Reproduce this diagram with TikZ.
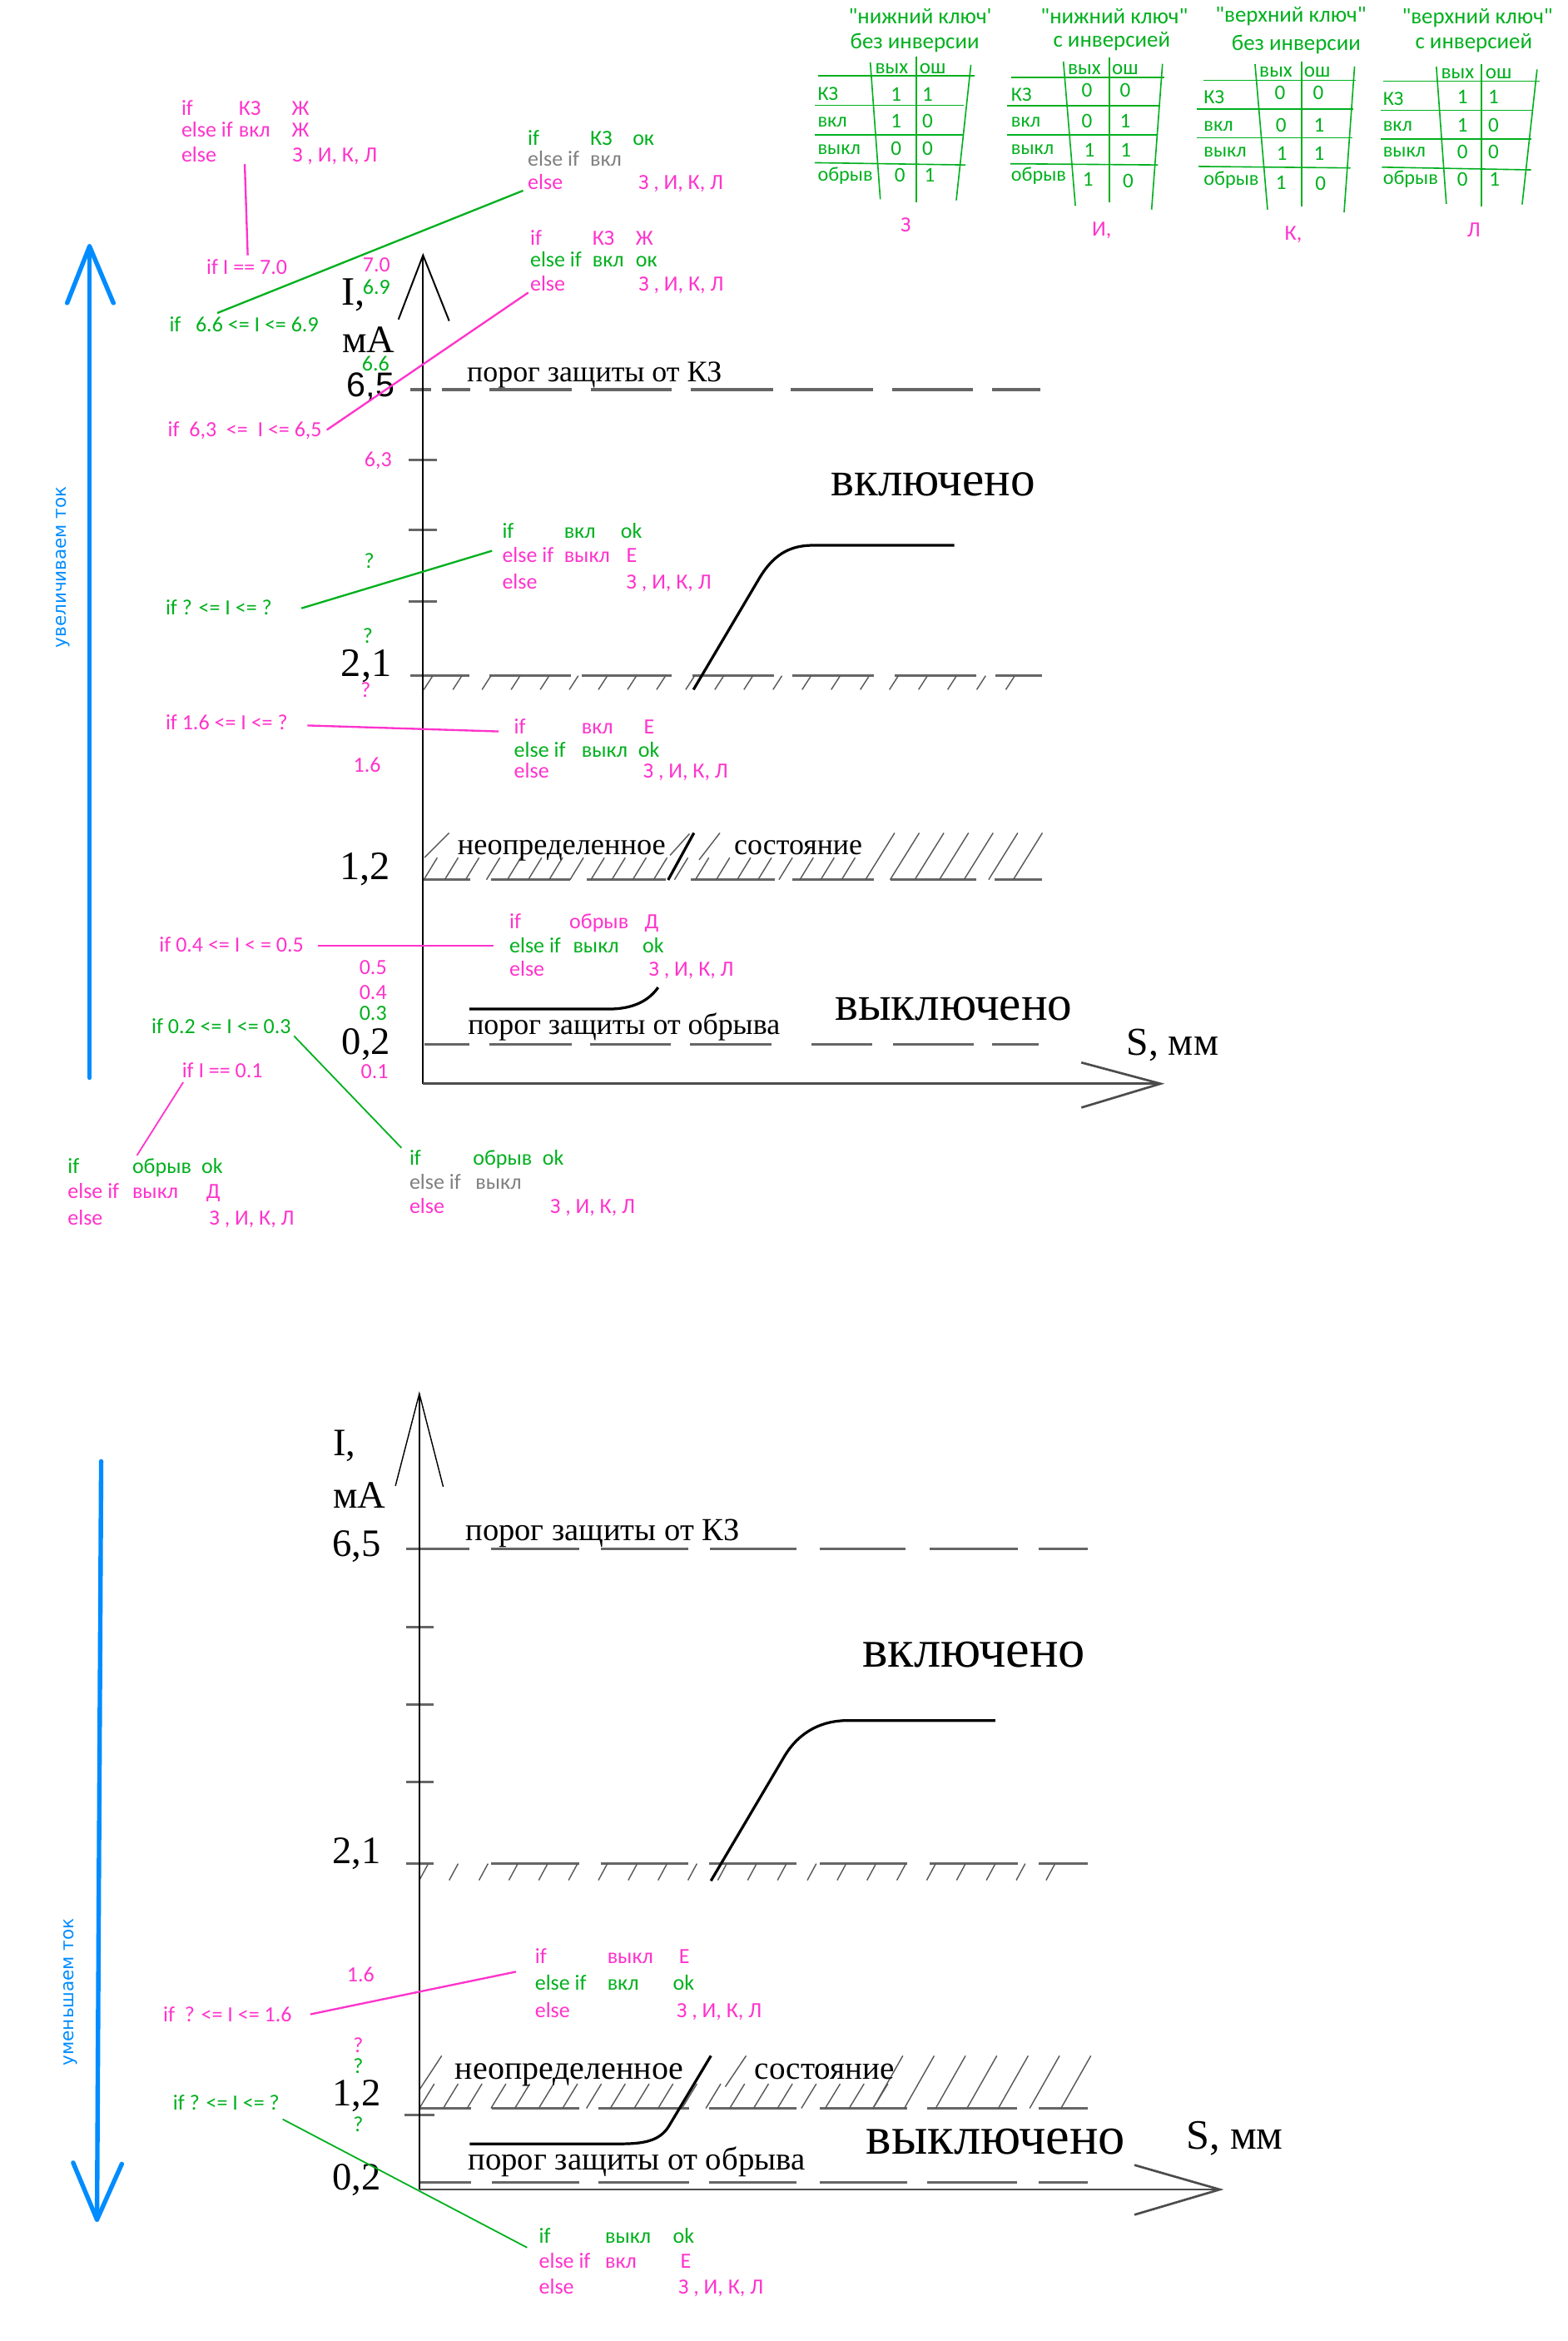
\documentclass[tikz,border=0pt]{standalone}
\usepackage{fontspec}
\setmainfont{Liberation Serif}
\newfontfamily\cf{Carlito}[Ligatures=TeXOff]
\newfontfamily\lsans{Liberation Sans}
\newfontfamily\dvs{DejaVu Sans}
\definecolor{pkc}{RGB}{255,51,204}
\definecolor{gnc}{RGB}{0,176,30}
\definecolor{gyc}{RGB}{128,128,128}
\definecolor{blc}{RGB}{0,140,255}
\newcommand\PK[1]{\textcolor{pkc}{#1}}
\newcommand\GN[1]{\textcolor{gnc}{#1}}
\newcommand\GY[1]{\textcolor{gyc}{#1}}
\newcommand\rowtx[5]{\makebox[#1pt][l]{#3}\makebox[#2pt][l]{#4}#5}
\newcommand\fsz[1]{\fontsize{#1}{#1}\selectfont}
\tikzset{
  every node/.style={inner sep=0pt, outer sep=0pt},
  lb/.style={font=\cf\fsz{14.5}, anchor=base west},
  sv/.style={font=\cf\fsz{14.5}, anchor=center},
  tb/.style={font=\cf\fsz{14}, text=gnc, anchor=center},
  tt/.style={font=\cf\fsz{15}, text=gnc, anchor=center},
  tbl/.style={font=\cf\fsz{13.5}, text=gnc, anchor=west},
  sr/.style={anchor=base west},
  axl/.style={anchor=base},
  ax/.style={draw=black, line width=1.1pt},
  axg/.style={draw=black!70, line width=1.5pt},
  thr/.style={draw=black!60, line width=1.7pt},
  hat/.style={draw=black!65, line width=0.8pt},
  gline/.style={draw=gnc, line width=1.3pt},
  pline/.style={draw=pkc, line width=1.3pt},
  tl/.style={draw=gnc, line width=0.9pt},
  crv/.style={draw=black, line width=1.8pt},
  blu/.style={draw=blc, line width=3pt, line cap=round, line join=round},
}
\begin{document}
\begin{tikzpicture}[x=1pt,y=-1pt]
\useasboundingbox (0,0) rectangle (1050.2,1568.3);
\fill[white] (0,0) rectangle (1050.2,1568.3);

% ================= TABLES =================
% T1
\node[tt] (t1h1) at (616.6,11) {"нижний ключ'};
\node[tt] (t1h2) at (613,28.8) {без инверсии};
\draw[tl] (548,50.8) -- (653,50.8);
\draw[tl] (546,70.6) -- (646,70.6);
\draw[tl] (546,90.5) -- (646,90.5);
\draw[tl] (546,109) -- (647,110.5);
\draw[tl] (583.2,41.8) -- (589.9,133.5);
\draw[tl] (613.9,38) -- (613.9,135.6);
\draw[tl] (650.6,43.5) -- (640.8,134.2);
\node[tb] (t1c1) at (597.5,46) {вых};
\node[tb] (t1c2) at (625,46) {ош};
\node[tbl] (t1r1) at (548,63) {КЗ};
\node[tbl] (t1r2) at (548,81.8) {вкл};
\node[tbl] (t1r3) at (548,100.4) {выкл};
\node[tbl] (t1r4) at (548,118) {обрыв};
\node[tb] (t1a1) at (600.5,63.2) {1};   \node[tb] (t1b1) at (621.6,63.2) {1};
\node[tb] (t1a2) at (600.5,81.2) {1};   \node[tb] (t1b2) at (621.6,81.2) {0};
\node[tb] (t1a3) at (600.5,99.5) {0};   \node[tb] (t1b3) at (621.6,99.5) {0};
\node[tb] (t1a4) at (603,117.5) {0};    \node[tb] (t1b4) at (623,117.5) {1};
\node[sv] (t1z) at (607,150.6) {\PK{З}};
% T2
\node[tt] (t2h1) at (746.7,11) {"нижний ключ"};
\node[tt] (t2h2) at (745,27.9) {с инверсией};
\draw[tl] (677.6,51.7) -- (780,51.7);
\draw[tl] (675,71) -- (777,71);
\draw[tl] (675,90.5) -- (776,90.5);
\draw[tl] (677,109.7) -- (776,110.5);
\draw[tl] (712.6,41.3) -- (720.6,137.8);
\draw[tl] (743.3,38.5) -- (743.3,135.6);
\draw[tl] (779,42.8) -- (771.7,140.4);
\node[tb] (t2c1) at (726.6,46.5) {вых};
\node[tb] (t2c2) at (754,46.5) {ош};
\node[tbl] (t2r1) at (677.6,63.2) {КЗ};
\node[tbl] (t2r2) at (677.6,81.8) {вкл};
\node[tbl] (t2r3) at (677.6,100.4) {выкл};
\node[tbl] (t2r4) at (677.6,118) {обрыв};
\node[tb] (t2a1) at (728.3,60.4) {0};   \node[tb] (t2b1) at (754,60.4) {0};
\node[tb] (t2a2) at (728.3,81.2) {0};   \node[tb] (t2b2) at (754,81.2) {1};
\node[tb] (t2a3) at (730,100.4) {1};    \node[tb] (t2b3) at (754.5,100.4) {1};
\node[tb] (t2a4) at (729,120) {1};      \node[tb] (t2b4) at (756,121) {0};
\node[sv] (t2z) at (738.3,154.3) {\PK{И,}};
% T3
\node[tt] (t3h1) at (865,11) {"верхний ключ"};
\node[tt] (t3h2) at (868.6,29.7) {без инверсии};
\draw[tl] (806.7,53.9) -- (908.4,53.9);
\draw[tl] (802,73) -- (906.7,73);
\draw[tl] (802,92.4) -- (906,92.4);
\draw[tl] (803,111.5) -- (905,112.5);
\draw[tl] (841,43) -- (849.4,140.4);
\draw[tl] (872.4,41) -- (872.4,138.5);
\draw[tl] (907.7,44.6) -- (900.7,142.2);
\node[tb] (t3c1) at (855,48.3) {вых};
\node[tb] (t3c2) at (882.6,48.3) {ош};
\node[tbl] (t3r1) at (806.7,65) {КЗ};
\node[tbl] (t3r2) at (806.7,84.6) {вкл};
\node[tbl] (t3r3) at (806.7,102.2) {выкл};
\node[tbl] (t3r4) at (806.7,120.8) {обрыв};
\node[tb] (t3a1) at (857.7,62.3) {0};   \node[tb] (t3b1) at (883.4,62.3) {0};
\node[tb] (t3a2) at (858.5,83.7) {0};   \node[tb] (t3b2) at (884,83.7) {1};
\node[tb] (t3a3) at (859,102.8) {1};    \node[tb] (t3b3) at (884,102.8) {1};
\node[tb] (t3a4) at (858.5,122.3) {1};  \node[tb] (t3b4) at (885,123) {0};
\node[sv] (t3z) at (866.7,157) {\PK{К,}};
% T4
\node[tt] (t4h1) at (990,12) {"верхний ключ"};
\node[tt] (t4h2) at (987.6,28.8) {с инверсией};
\draw[tl] (926.8,54.3) -- (1031.8,54.3);
\draw[tl] (925,73.8) -- (1027.3,73.8);
\draw[tl] (925,93) -- (1026,93);
\draw[tl] (926,112) -- (1026,113.8);
\draw[tl] (962.5,44.6) -- (969.2,136.6);
\draw[tl] (992.8,42.8) -- (992.8,138.5);
\draw[tl] (1030,46.5) -- (1020,137);
\node[tb] (t4c1) at (976.8,49.3) {вых};
\node[tb] (t4c2) at (1004.3,49.3) {ош};
\node[tbl] (t4r1) at (926.8,66) {КЗ};
\node[tbl] (t4r2) at (926.8,84.6) {вкл};
\node[tbl] (t4r3) at (926.8,102.2) {выкл};
\node[tbl] (t4r4) at (926.8,120) {обрыв};
\node[tb] (t4a1) at (980,65) {1};      \node[tb] (t4b1) at (1000.8,65) {1};
\node[tb] (t4a2) at (980,83.7) {1};    \node[tb] (t4b2) at (1000.8,83.7) {0};
\node[tb] (t4a3) at (980,101.9) {0};   \node[tb] (t4b3) at (1000.8,101.9) {0};
\node[tb] (t4a4) at (980,120) {0};     \node[tb] (t4b4) at (1001.5,120) {1};
\node[sv] (t4z) at (987.6,154.3) {\PK{Л}};

% ================= UPPER CHART =================
% blue arrow
\coordinate (ubB) at (60,722); \coordinate (ubT) at (60,165);
\coordinate (ubL) at (45,203); \coordinate (ubR) at (76,203);
\draw[blu] (ubB) -- (ubT);
\draw[blu] (ubL) -- (ubT) -- (ubR);
\node[font=\dvs\fsz{12}, text=blc, rotate=90] (uinc) at (42,380) {увеличиваем ток};

% thresholds
\foreach \a/\b in {275/289,296/315,328/383,396/450,463/518,530/585,598/652,665/697}
  \draw[thr] (\a,261) -- (\b,261);
\foreach \a/\b in {274.7/314.6,328/382.6,390/450,464/518.7,531/585.6,599.5/654,667/698.5}
  \draw[thr] (\a,452.7) -- (\b,452.7);
\foreach \x in {284,303.5,...,690} \draw[hat] (\x,462) -- ++(6,-9.3);
\foreach \a/\b in {283/315,329/382,393/446,463/519,531/585.6,597/654,666.5/698.5}
  \draw[thr] (\a,589.3) -- (\b,589.3);
\foreach \x in {284,298,...,575} \draw[hat] (\x,589.3) -- ++(9,-14.7);
\foreach \x in {580,596.5,...,681} \draw[hat] (\x,589.3) -- ++(19.5,-31.3);
\draw[hat] (284.4,574.5) -- (301,558);
\draw[hat] (449,573) -- (462,558.6);
\draw[hat] (468.5,576) -- (482.4,558);
\foreach \a/\b in {284.4/314.5,328/383,395.5/449.6,462.5/517,544/584.5,598.5/652.5,665/696}
  \draw[thr] (\a,699.5) -- (\b,699.5);
\foreach \y in {308,355,403} \draw[thr] (274,\y) -- (293,\y);

% axes
\coordinate (uO) at (283.5,726); \coordinate (uY) at (283.5,171); \coordinate (uX) at (777.7,726);
\coordinate (uYl) at (267,214); \coordinate (uYr) at (301,215);
\coordinate (uXu) at (724.6,711.8); \coordinate (uXd) at (724.6,742);
\draw[ax] (uO) -- (uY);
\draw[ax] (uYl) -- (uY) -- (uYr);
\draw[axg] (uO) -- (uX);
\draw[axg] (uXu) -- (uX) -- (uXd);

% curves
\draw[crv] (464.7,462) -- (508.7,387.6) .. controls (519.7,369) and (532,365.3) .. (545.5,365.3) -- (639.5,365.3);
\draw[crv] (314.5,676) -- (407.5,676) .. controls (425,676) and (435,670) .. (441,661.5);
\draw[crv] (447.7,589.5) -- (465,558);

% black labels
\node[axl, font=\fsz{27}] (uI) at (237,204.5) {I,};
\node[axl, font=\fsz{26}] (umA) at (247,236) {мА};
\node[axl, font=\lsans\fsz{23}] (u65) at (248.5,265.8) {6,5};
\node[axl, font=\fsz{27}] (u21) at (245.5,452.9) {2,1};
\node[axl, font=\fsz{27}] (u12) at (244.5,589.4) {1,2};
\node[axl, font=\fsz{26}] (u02) at (245.4,706.5) {0,2};
\node[sr, font=\fsz{26.5}] (uS) at (755,707) {S, мм};
\node[sr, font=\fsz{20}] (uKZ) at (313,255.6) {порог защиты от КЗ};
\node[sr, font=\fsz{33}] (uon) at (557,332.2) {включено};
\node[sr, font=\fsz{20.3}] (uund) at (306.7,572.6) {неопределенное};
\node[sr, font=\fsz{20}] (ust) at (492,572.6) {состояние};
\node[sr, font=\fsz{20}] (ubr) at (313.6,693) {порог защиты от обрыва};
\node[sr, font=\fsz{33}] (uoff) at (559.5,683.4) {выключено};

% small values
\node[sv] (v70) at (252.3,177.5) {\PK{7.0}};
\node[sv] (v69) at (252.3,192.4) {\GN{6.9}};
\node[sv] (v66) at (251.7,243.5) {\GN{6.6}};
\node[sv] (v63) at (253.4,308.7) {\PK{6,3}};
\node[sv] (vq1) at (247.4,376) {\GN{?}};
\node[sv] (vq2) at (246.5,426) {\GN{?}};
\node[sv] (vq3) at (245,462.4) {\PK{?}};
\node[sv] (v16) at (246,512.5) {\PK{1.6}};
\node[sv] (v05) at (250,648) {\PK{0.5}};
\node[sv] (v04) at (250,664.8) {\PK{0.4}};
\node[sv] (v03) at (250,679) {\GN{0.3}};
\node[sv] (v01) at (251,717.7) {\PK{0.1}};

% condition labels
\node[lb] (k70) at (138.4,184) {\PK{if I == 7.0}};
\node[lb] (k66) at (113.5,222) {\GN{if\ \ \ 6.6 <= I <= 6.9}};
\node[lb] (k63) at (112.5,292.5) {\PK{if\ \ 6,3\ \ <=\ \ I <= 6,5}};
\node[lb] (kq1) at (111,412) {\GN{if ? <= I <= ?}};
\node[lb] (k16) at (111,489) {\PK{if 1.6 <= I <= ?}};
\node[lb] (k04) at (106.8,638) {\PK{if 0.4 <= I < = 0.5}};
\node[lb] (k02) at (101.6,692.5) {\GN{if 0.2 <= I <= 0.3}};
\node[lb] (k01) at (122,722) {\PK{if I == 0.1}};

% blocks
\node[lb] (A1) at (121.6,77) {\rowtx{38.4}{35.5}{\PK{if}}{\PK{КЗ}}{\PK{Ж}}};
\node[lb] (A2) at (121.6,92) {\rowtx{38.4}{35.5}{\PK{else if}}{\PK{вкл}}{\PK{Ж}}};
\node[lb] (A3) at (121.6,108.5) {\rowtx{38.4}{35.9}{\PK{else}}{}{\PK{З , И, К, Л}}};

\node[lb] (B1) at (353.7,97.5) {\rowtx{41.8}{28.5}{\GN{if}}{\GN{КЗ}}{\GN{ок}}};
\node[lb] (B2) at (353.7,111.5) {\rowtx{41.8}{28.5}{\GY{else if}}{\GY{вкл}}{}};
\node[lb] (B3) at (353.7,127) {\rowtx{41.8}{32.3}{\PK{else}}{}{\PK{З , И, К, Л}}};

\node[lb] (C1) at (355.3,164) {\rowtx{41.7}{29}{\PK{if}}{\PK{КЗ}}{\PK{Ж}}};
\node[lb] (C2) at (355.3,178.5) {\rowtx{41.7}{29}{\GN{else if}}{\GN{вкл}}{\GN{ок}}};
\node[lb] (C3) at (355.3,195) {\rowtx{41.7}{31}{\PK{else}}{}{\PK{З , И, К, Л}}};

\node[lb] (D1) at (336.6,360.5) {\rowtx{41.4}{38}{\GN{if}}{\GN{вкл}}{\GN{ok}}};
\node[lb] (D2) at (336.6,377) {\rowtx{41.4}{41.8}{\PK{else if}}{\PK{выкл}}{\PK{E}}};
\node[lb] (D3) at (336.6,394.5) {\rowtx{41.4}{41.8}{\PK{else}}{}{\PK{З , И, К, Л}}};

\node[lb] (E1) at (344.5,491.5) {\rowtx{45.3}{41.6}{\PK{if}}{\PK{вкл}}{\PK{E}}};
\node[lb] (E2) at (344.5,507) {\rowtx{45.3}{37.9}{\GN{else if}}{\GN{выкл}}{\GN{ok}}};
\node[lb] (E3) at (344.5,521) {\rowtx{45.3}{41.2}{\PK{else}}{}{\PK{З , И, К, Л}}};

\node[lb] (F1) at (341.4,622) {\rowtx{40.2}{50.4}{\PK{if}}{\PK{обрыв}}{\PK{Д}}};
\node[lb] (F2) at (341.4,638.5) {\rowtx{42.6}{46.6}{\GN{else if}}{\GN{выкл}}{\GN{ok}}};
\node[lb] (F3) at (341.4,653.7) {\rowtx{42.6}{50.8}{\PK{else}}{}{\PK{З , И, К, Л}}};

\node[lb] (G1) at (274.4,780.5) {\rowtx{42.6}{46.6}{\GN{if}}{\GN{обрыв}}{\GN{ok}}};
\node[lb] (G2) at (274.4,796.5) {\rowtx{44.3}{0}{\GY{else if}}{\GY{выкл}}{}};
\node[lb] (G3) at (274.4,813) {\rowtx{44.3}{50}{\PK{else}}{}{\PK{З , И, К, Л}}};

\node[lb] (H1) at (45.4,786) {\rowtx{43.3}{46.3}{\GN{if}}{\GN{обрыв}}{\GN{ok}}};
\node[lb] (H2) at (45.4,803) {\rowtx{43.3}{49.5}{\PK{else if}}{\PK{выкл}}{\PK{Д}}};
\node[lb] (H3) at (45.4,820.5) {\rowtx{43.3}{51.6}{\PK{else}}{}{\PK{З , И, К, Л}}};

% connectors
\coordinate (p1a) at (164,110);   \coordinate (p1b) at (166,171);
\coordinate (p2a) at (145.6,209.7); \coordinate (p2b) at (350.5,127.7);
\coordinate (p3a) at (219,288);   \coordinate (p3b) at (354,196);
\coordinate (p4a) at (202,407.5); \coordinate (p4b) at (329.7,369);
\coordinate (p5a) at (206,486);   \coordinate (p5b) at (334,490);
\coordinate (p6a) at (213,633.6); \coordinate (p6b) at (330.7,633.6);
\coordinate (p7a) at (197,694);   \coordinate (p7b) at (269,769);
\coordinate (p8a) at (122.8,725); \coordinate (p8b) at (91.8,774);
\draw[pline] (p1a) -- (p1b);
\draw[gline] (p2a) -- (p2b);
\draw[pline] (p3a) -- (p3b);
\draw[gline] (p4a) -- (p4b);
\draw[pline] (p5a) -- (p5b);
\draw[pline] (p6a) -- (p6b);
\draw[gline, line width=1pt] (p7a) -- (p7b);
\draw[pline, line width=1pt] (p8a) -- (p8b);

% ================= LOWER CHART =================
\coordinate (lbT) at (67.8,979); \coordinate (lbB) at (65,1487);
\coordinate (lbL) at (49,1448.8); \coordinate (lbR) at (81.6,1449.7);
\draw[blu] (lbT) -- (lbB);
\draw[blu] (lbL) -- (lbB) -- (lbR);
\node[font=\dvs\fsz{12}, text=blc, rotate=90] (ldec) at (47,1334.5) {уменьшаем ток};

\foreach \a/\b in {272/314.6,329/388,402.7/461,476/533.7,549.6/607,623/682,696/729}
  \draw[thr] (\a,1037.4) -- (\b,1037.4);
\foreach \a/\b in {272/290.6,329/388,402.7/461,475/533.7,549.6/608,623/682,696/729}
  \draw[thr] (\a,1248.5) -- (\b,1248.5);
\foreach \x in {281,301,...,720} \draw[hat] (\x,1259.6) -- ++(6,-11.1);
\foreach \a/\b in {281/315.7,329.8/388,401/461.6,475/533.6,549.5/608,621.5/681.4,696/729}
  \draw[thr] (\a,1412.4) -- (\b,1412.4);
\draw[thr] (271,1417) -- (291,1417);
\foreach \x in {281,297,...,600} \draw[hat] (\x,1412.4) -- ++(10,-16.4);
\foreach \x in {585,606,...,711} \draw[hat] (\x,1412.4) -- ++(20,-35.2);
\draw[hat] (281,1400) -- (296,1377.2);
\draw[hat] (486,1398) -- (500,1377.2);
\foreach \a/\b in {281/315.7,329.8/388,401/461.6,475/533.6,549.5/608,621.5/681.4,696/729}
  \draw[thr] (\a,1461.8) -- (\b,1461.8);
\foreach \y in {1090,1142,1194} \draw[thr] (272,\y) -- (290.6,\y);

\coordinate (lO) at (281,1466.8); \coordinate (lY) at (281,933.6); \coordinate (lX) at (817.4,1466.8);
\coordinate (lYl) at (265,995.4); \coordinate (lYr) at (297,996);
\coordinate (lXu) at (760.2,1450.4); \coordinate (lXd) at (760.2,1483.7);
\draw[ax] (lO) -- (lY);
\draw[ax, line width=0.8pt] (lYl) -- (lY) -- (lYr);
\draw[axg] (lO) -- (lX);
\draw[axg] (lXu) -- (lX) -- (lXd);

\draw[crv] (476.4,1260) -- (525.4,1177) .. controls (536,1159) and (552,1152.6) .. (568,1152.6) -- (667,1152.6);
\draw[crv] (314.8,1436.2) -- (416,1436.2) .. controls (432,1436.2) and (442,1434) .. (448,1424.7) -- (476.4,1377.2);

\node[axl, font=\fsz{26}] (lI) at (230.7,975) {I,};
\node[axl, font=\fsz{26}] (lmA) at (240.7,1010.4) {мА};
\node[axl, font=\fsz{26}] (l65) at (238.8,1042.8) {6,5};
\node[axl, font=\fsz{26}] (l21) at (238.8,1248.5) {2,1};
\node[axl, font=\fsz{26}] (l12) at (239,1410.8) {1,2};
\node[axl, font=\fsz{26}] (l02) at (239,1466.8) {0,2};
\node[sr, font=\fsz{28}] (lS) at (794.8,1439.8) {S, мм};
\node[sr, font=\fsz{21.5}] (lKZ) at (312,1032) {порог защиты от КЗ};
\node[sr, font=\fsz{36}] (lon) at (578,1116.7) {включено};
\node[sr, font=\fsz{22.3}] (lund) at (305,1392.8) {неопределенное};
\node[sr, font=\fsz{21.8}] (lst) at (505.8,1392.8) {состояние};
\node[sr, font=\fsz{21.6}] (lbr) at (313.7,1453.8) {порог защиты от обрыва};
\node[sr, font=\fsz{36}] (loff) at (580.5,1442.8) {выключено};

\node[sv] (w16) at (241.7,1322.8) {\PK{1.6}};
\node[sv] (wq1) at (240,1370) {\PK{?}};
\node[sv] (wq2) at (240,1384) {\GN{?}};
\node[sv] (wq3) at (240,1423) {\GN{?}};

\node[lb] (k16b) at (109.4,1354.5) {\PK{if\ \ ? <= I <= 1.6}};
\node[lb] (kq2) at (116,1413.5) {\GN{if ? <= I <= ?}};

\node[lb] (I1) at (358.5,1315.3) {\rowtx{48.5}{48}{\PK{if}}{\PK{выкл}}{\PK{E}}};
\node[lb] (I2) at (358.5,1333.3) {\rowtx{48.5}{44}{\GN{else if}}{\GN{вкл}}{\GN{ok}}};
\node[lb] (I3) at (358.5,1351.7) {\rowtx{48.5}{46.5}{\PK{else}}{}{\PK{З , И, К, Л}}};

\node[lb] (J1) at (361.2,1503) {\rowtx{44.3}{45.5}{\GN{if}}{\GN{выкл}}{\GN{ok}}};
\node[lb] (J2) at (361.2,1519.3) {\rowtx{44.3}{50.5}{\PK{else if}}{\PK{вкл}}{\PK{E}}};
\node[lb] (J3) at (361.2,1537) {\rowtx{44.3}{49.1}{\PK{else}}{}{\PK{З , И, К, Л}}};

\coordinate (p9a) at (208,1349.4);   \coordinate (p9b) at (345.8,1320.9);
\coordinate (p10a) at (189.4,1419.7); \coordinate (p10b) at (353.2,1505.7);
\draw[pline] (p9a) -- (p9b);
\draw[gline, line width=1pt] (p10a) -- (p10b);
\end{tikzpicture}
\end{document}
